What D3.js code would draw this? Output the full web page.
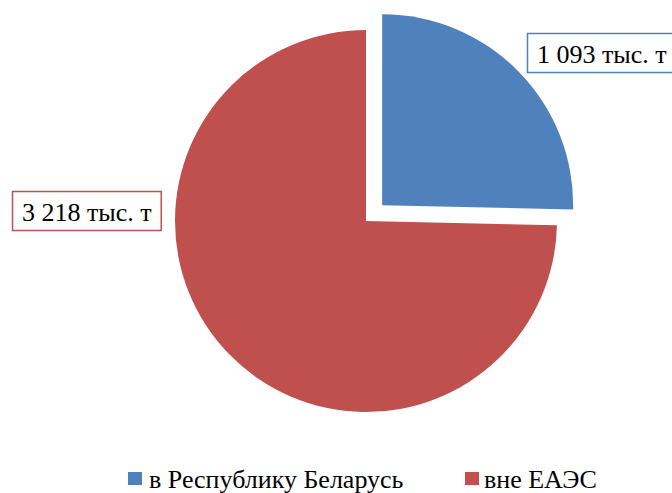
<!DOCTYPE html>
<html>
<head>
<meta charset="utf-8">
<script src="https://cdn.jsdelivr.net/npm/d3@7"></script>
<style>
html,body{margin:0;padding:0;background:#fff;}
</style>
</head>
<body>
<svg id="chart" width="672" height="493"></svg>
<script>
const categories = ["в Республику Беларусь", "вне ЕАЭС"];
const values = [1093, 3218];
const valueLabels = ["1 093 тыс. т", "3 218 тыс. т"];
const colors = ["#4F81BD", "#C0504D"];

const FONT = "'Liberation Serif', 'Times New Roman', serif";
const svg = d3.select("#chart");
const cx = 366, cy = 221, r = 191, explode = 22.6;

const pie = d3.pie().sort(null).value(d => d)(values);
const arc = d3.arc().innerRadius(0).outerRadius(r);

const g = svg.append("g").attr("transform", `translate(${cx},${cy})`);
g.selectAll("path").data(pie).enter().append("path")
  .attr("d", arc)
  .attr("fill", (d, i) => colors[i])
  .attr("transform", (d, i) => {
    if (i !== 0) return null;
    const a = (d.startAngle + d.endAngle) / 2;
    return `translate(${Math.sin(a) * explode},${-Math.cos(a) * explode})`;
  });

// data labels
const labelPos = [
  {x: 537, y: 63},
  {x: 22, y: 221}
];
valueLabels.forEach((t, i) => {
  const lg = svg.append("g");
  const txt = lg.append("text")
    .attr("x", labelPos[i].x).attr("y", labelPos[i].y)
    .attr("font-family", FONT)
    .attr("font-size", 26).attr("fill", "#000").text(t);
  const w = txt.node().getComputedTextLength();
  lg.insert("rect", "text")
    .attr("x", labelPos[i].x - 9.5).attr("y", labelPos[i].y - 29.5)
    .attr("width", w + 19).attr("height", 39)
    .attr("fill", "#fff").attr("stroke", colors[i]).attr("stroke-width", 1.5);
});

// legend
const legendItems = [{x: 128, tx: 149}, {x: 465, tx: 484}];
categories.forEach((c, i) => {
  svg.append("rect").attr("x", legendItems[i].x).attr("y", 472)
    .attr("width", 14).attr("height", 13).attr("fill", colors[i]);
  svg.append("text").attr("x", legendItems[i].tx).attr("y", 488)
    .attr("font-family", FONT)
    .attr("font-size", 26).attr("fill", "#000").text(c);
});
</script>
</body>
</html>
